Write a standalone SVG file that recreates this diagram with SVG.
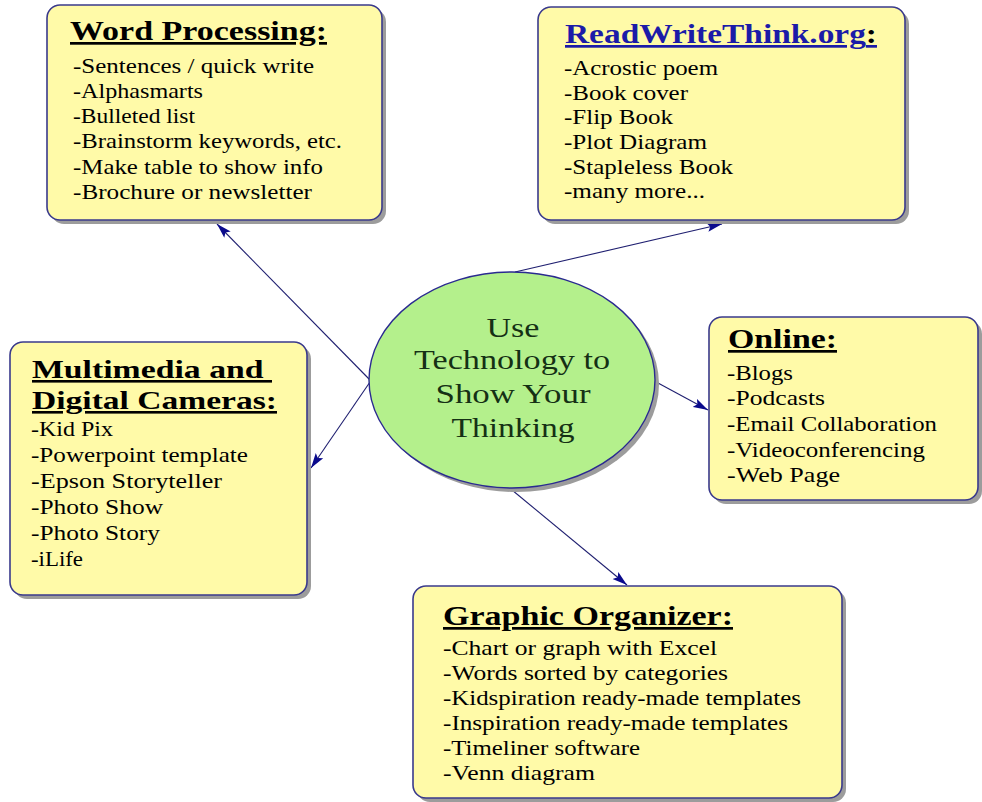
<svg xmlns="http://www.w3.org/2000/svg" width="982" height="802" viewBox="0 0 982 802">
<style>
.box{fill:#FFFAA8;stroke:#3A3A8C;stroke-width:1.6}
.shd{fill:#9C9C9C}
.t{font-family:"Liberation Serif","Times New Roman",serif;font-weight:bold;font-size:27px;fill:#000;text-decoration:underline}
.b{font-family:"Liberation Serif","Times New Roman",serif;font-size:22px;fill:#000}
.c{font-family:"Liberation Serif","Times New Roman",serif;font-size:28px;fill:#153015;text-anchor:middle}
.ln{stroke:#1F1F70;stroke-width:1.1;fill:none;marker-end:url(#ah)}
</style>
<defs>
<marker id="ah" markerUnits="userSpaceOnUse" markerWidth="16" markerHeight="10" refX="15" refY="5" orient="auto">
<path d="M0,0.5 L15,5 L0,9.5 L3,5 Z" fill="#0A0A8C"/>
</marker>
</defs>
<rect width="982" height="802" fill="#fff"/>

<g id="connectors">
<line class="ln" x1="370" y1="380" x2="217" y2="224"/>
<line class="ln" x1="515" y1="272" x2="722" y2="224"/>
<line class="ln" x1="370" y1="382" x2="311" y2="468"/>
<line class="ln" x1="658" y1="383" x2="708" y2="410"/>
<line class="ln" x1="512" y1="490" x2="627" y2="585"/>
</g>

<g id="center">
<ellipse cx="516" cy="384" rx="143" ry="108" class="shd"/>
<ellipse cx="512" cy="380" rx="143" ry="108" fill="#B4F08C" stroke="#2A2A90" stroke-width="1.4"/>
<text class="c" x="513" y="337" textLength="53" lengthAdjust="spacingAndGlyphs">Use</text>
<text class="c" x="512" y="369" textLength="196" lengthAdjust="spacingAndGlyphs">Technology to</text>
<text class="c" x="513" y="403" textLength="155" lengthAdjust="spacingAndGlyphs">Show Your</text>
<text class="c" x="513" y="437" textLength="123" lengthAdjust="spacingAndGlyphs">Thinking</text>
</g>

<g id="word-processing">
<rect x="51" y="9" width="335" height="215" rx="13" class="shd"/>
<rect x="47" y="5" width="335" height="215" rx="13" class="box"/>
<text class="t" x="70" y="40" textLength="257" lengthAdjust="spacingAndGlyphs">Word Processing:</text>
<text class="b" x="73" y="73" textLength="241" lengthAdjust="spacingAndGlyphs">-Sentences / quick write</text>
<text class="b" x="73" y="98" textLength="130" lengthAdjust="spacingAndGlyphs">-Alphasmarts</text>
<text class="b" x="73" y="123" textLength="122" lengthAdjust="spacingAndGlyphs">-Bulleted list</text>
<text class="b" x="73" y="148" textLength="269" lengthAdjust="spacingAndGlyphs">-Brainstorm keywords, etc.</text>
<text class="b" x="73" y="174" textLength="250" lengthAdjust="spacingAndGlyphs">-Make table to show info</text>
<text class="b" x="73" y="199" textLength="239" lengthAdjust="spacingAndGlyphs">-Brochure or newsletter</text>
</g>

<g id="readwritethink">
<rect x="542" y="11" width="367" height="213" rx="13" class="shd"/>
<rect x="538" y="7" width="367" height="213" rx="13" class="box"/>
<text class="t" x="565" y="43" textLength="312" lengthAdjust="spacingAndGlyphs" style="fill:#1B1BA8">ReadWriteThink.org<tspan style="fill:#000">:</tspan></text>
<text class="b" x="564" y="75" textLength="154" lengthAdjust="spacingAndGlyphs">-Acrostic poem</text>
<text class="b" x="564" y="100" textLength="124" lengthAdjust="spacingAndGlyphs">-Book cover</text>
<text class="b" x="564" y="124" textLength="109" lengthAdjust="spacingAndGlyphs">-Flip Book</text>
<text class="b" x="564" y="149" textLength="143" lengthAdjust="spacingAndGlyphs">-Plot Diagram</text>
<text class="b" x="564" y="174" textLength="169" lengthAdjust="spacingAndGlyphs">-Stapleless Book</text>
<text class="b" x="564" y="198" textLength="141" lengthAdjust="spacingAndGlyphs">-many more...</text>
</g>

<g id="multimedia">
<rect x="14" y="346" width="297" height="253" rx="13" class="shd"/>
<rect x="10" y="342" width="297" height="253" rx="13" class="box"/>
<text class="t" x="32" y="378" textLength="240" lengthAdjust="spacingAndGlyphs" style="font-size:26px">Multimedia and&#160;</text>
<text class="t" x="32" y="409" textLength="245" lengthAdjust="spacingAndGlyphs" style="font-size:26px">Digital Cameras:</text>
<text class="b" x="31" y="436" textLength="82" lengthAdjust="spacingAndGlyphs">-Kid Pix</text>
<text class="b" x="31" y="462" textLength="217" lengthAdjust="spacingAndGlyphs">-Powerpoint template</text>
<text class="b" x="31" y="488" textLength="191" lengthAdjust="spacingAndGlyphs">-Epson Storyteller</text>
<text class="b" x="31" y="514" textLength="132" lengthAdjust="spacingAndGlyphs">-Photo Show</text>
<text class="b" x="31" y="540" textLength="129" lengthAdjust="spacingAndGlyphs">-Photo Story</text>
<text class="b" x="31" y="566" textLength="52" lengthAdjust="spacingAndGlyphs">-iLife</text>
</g>

<g id="online">
<rect x="713" y="321" width="269" height="183" rx="13" class="shd"/>
<rect x="709" y="317" width="269" height="183" rx="13" class="box"/>
<text class="t" x="728" y="348" textLength="109" lengthAdjust="spacingAndGlyphs">Online:</text>
<text class="b" x="727" y="380" textLength="66" lengthAdjust="spacingAndGlyphs">-Blogs</text>
<text class="b" x="727" y="405" textLength="98" lengthAdjust="spacingAndGlyphs">-Podcasts</text>
<text class="b" x="727" y="431" textLength="210" lengthAdjust="spacingAndGlyphs">-Email Collaboration</text>
<text class="b" x="727" y="457" textLength="198" lengthAdjust="spacingAndGlyphs">-Videoconferencing</text>
<text class="b" x="727" y="482" textLength="113" lengthAdjust="spacingAndGlyphs">-Web Page</text>
</g>

<g id="graphic-organizer">
<rect x="417" y="590" width="429" height="212" rx="13" class="shd"/>
<rect x="413" y="586" width="429" height="212" rx="13" class="box"/>
<text class="t" x="443" y="625" textLength="290" lengthAdjust="spacingAndGlyphs">Graphic Organizer:</text>
<text class="b" x="443" y="655" textLength="274" lengthAdjust="spacingAndGlyphs">-Chart or graph with Excel</text>
<text class="b" x="443" y="680" textLength="285" lengthAdjust="spacingAndGlyphs">-Words sorted by categories</text>
<text class="b" x="443" y="705" textLength="358" lengthAdjust="spacingAndGlyphs">-Kidspiration ready-made templates</text>
<text class="b" x="443" y="730" textLength="345" lengthAdjust="spacingAndGlyphs">-Inspiration ready-made templates</text>
<text class="b" x="443" y="755" textLength="197" lengthAdjust="spacingAndGlyphs">-Timeliner software</text>
<text class="b" x="443" y="780" textLength="152" lengthAdjust="spacingAndGlyphs">-Venn diagram</text>
</g>
</svg>
